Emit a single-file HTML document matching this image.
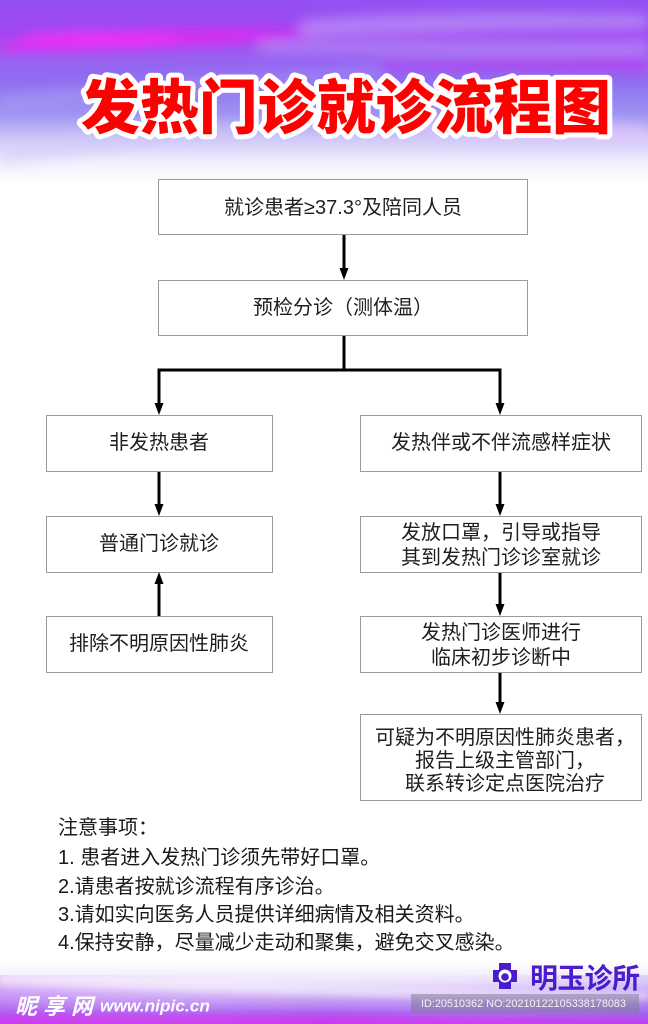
<!DOCTYPE html>
<html><head><meta charset="utf-8">
<style>
html,body{margin:0;padding:0;background:#fff;}
svg{display:block;}
</style></head>
<body>
<svg width="648" height="1024" viewBox="0 0 648 1024" xmlns="http://www.w3.org/2000/svg">
<defs>
<linearGradient id="topg" x1="0" y1="0" x2="0" y2="1">
<stop offset="0" stop-color="#9450f2"/>
<stop offset="0.18" stop-color="#a048f2"/>
<stop offset="0.3" stop-color="#9a60f2"/>
<stop offset="0.45" stop-color="#8e70f0"/>
<stop offset="0.62" stop-color="#a094f2"/>
<stop offset="0.75" stop-color="#cfc8f8"/>
<stop offset="0.88" stop-color="#f2f0fd"/>
<stop offset="1" stop-color="#ffffff"/>
</linearGradient>
<linearGradient id="botg" x1="0" y1="0" x2="0" y2="1">
<stop offset="0" stop-color="#ffffff"/>
<stop offset="0.3" stop-color="#eee6fc"/>
<stop offset="0.58" stop-color="#cba8f5"/>
<stop offset="0.82" stop-color="#a866f0"/>
<stop offset="1" stop-color="#c040f0"/>
</linearGradient>
<linearGradient id="both" x1="0" y1="0" x2="1" y2="0">
<stop offset="0" stop-color="#c050f0" stop-opacity="0.25"/>
<stop offset="0.5" stop-color="#ffffff" stop-opacity="0"/>
<stop offset="1" stop-color="#8060f0" stop-opacity="0.2"/>
</linearGradient>
<filter id="bl" x="-20%" y="-200%" width="140%" height="500%"><feGaussianBlur stdDeviation="6"/></filter>
<filter id="bl2" x="-20%" y="-200%" width="140%" height="500%"><feGaussianBlur stdDeviation="3"/></filter>
</defs>

<!-- top background -->
<rect x="0" y="0" width="648" height="185" fill="url(#topg)"/>
<g filter="url(#bl)">
<path d="M0 42 C120 30 220 28 330 32 C300 40 200 48 0 52 Z" fill="#f020f0" opacity="0.75"/>
<ellipse cx="100" cy="38" rx="80" ry="6" fill="#ff30ff" opacity="0.8"/>
<path d="M300 20 C420 10 540 12 648 14 L648 30 C520 30 420 34 300 38 Z" fill="#c8c0fa" opacity="0.45"/>
<path d="M260 44 C400 40 540 44 648 42 L648 52 C520 54 400 52 260 52 Z" fill="#dcd6fc" opacity="0.35"/>
<path d="M380 62 C480 58 560 58 648 55 L648 72 C560 70 470 70 380 70 Z" fill="#c030f0" opacity="0.6"/>
<path d="M0 95 C150 80 260 72 380 68 L380 80 C260 86 150 96 0 110 Z" fill="#b8b0f8" opacity="0.3"/>
<path d="M420 120 C520 118 600 122 648 128 L648 145 C580 140 500 136 420 134 Z" fill="#e8c8f8" opacity="0.6"/>
<path d="M0 150 C60 140 140 128 260 120 L260 132 C150 142 70 156 0 166 Z" fill="#c8c4f6" opacity="0.4"/>
</g>

<!-- bottom background -->
<rect x="0" y="962" width="648" height="62" fill="url(#botg)"/>
<rect x="0" y="975" width="648" height="49" fill="url(#both)"/>
<g filter="url(#bl2)">
<path d="M0 972 C150 976 350 988 648 992 L648 1000 C360 999 150 990 0 985 Z" fill="#ffffff" opacity="0.4"/>
<path d="M0 1014 C200 1012 400 1016 648 1019 L648 1024 L0 1024 Z" fill="#e020f0" opacity="0.4"/>
</g>

<!-- title -->
<text x="81" y="103" dominant-baseline="central" textLength="530" lengthAdjust="spacing"
 font-family="'Noto Sans CJK SC','WenQuanYi Zen Hei',sans-serif" font-weight="900" font-size="59"
 fill="#ff0000" stroke="#ffffff" stroke-width="10" stroke-linejoin="round" paint-order="stroke">发热门诊就诊流程图</text>

<!-- boxes -->
<g fill="#ffffff" stroke="#9a9a9a" stroke-width="1">
<rect x="158.5" y="179.5" width="369" height="55"/>
<rect x="158.5" y="280.5" width="369" height="55"/>
<rect x="46.5" y="415.5" width="226" height="56"/>
<rect x="46.5" y="516.5" width="226" height="56"/>
<rect x="46.5" y="616.5" width="226" height="56"/>
<rect x="360.5" y="415.5" width="281" height="56"/>
<rect x="360.5" y="516.5" width="281" height="56"/>
<rect x="360.5" y="616.5" width="281" height="56"/>
<rect x="360.5" y="714.5" width="281" height="86"/>
</g>

<!-- connectors -->
<g stroke="#000" stroke-width="3" fill="none">
<line x1="344" y1="235" x2="344" y2="270"/>
<line x1="344" y1="336" x2="344" y2="370"/>
<line x1="157.5" y1="370" x2="501.5" y2="370"/>
<line x1="159" y1="370" x2="159" y2="405"/>
<line x1="500" y1="370" x2="500" y2="405"/>
<line x1="159" y1="472" x2="159" y2="506"/>
<line x1="159" y1="616" x2="159" y2="582"/>
<line x1="500" y1="472" x2="500" y2="506"/>
<line x1="500" y1="573" x2="500" y2="606"/>
<line x1="500" y1="673" x2="500" y2="704"/>
</g>
<g fill="#000">
<polygon points="339.5,268 348.5,268 344,280"/>
<polygon points="154.5,403 163.5,403 159,415"/>
<polygon points="495.5,403 504.5,403 500,415"/>
<polygon points="154.5,504 163.5,504 159,516"/>
<polygon points="154.5,584 163.5,584 159,572"/>
<polygon points="495.5,504 504.5,504 500,516"/>
<polygon points="495.5,604 504.5,604 500,616"/>
<polygon points="495.5,702 504.5,702 500,714"/>
</g>

<!-- box labels -->
<g font-family="'Liberation Sans','Noto Sans CJK SC',sans-serif" font-size="20" fill="#1e1e1e" text-anchor="middle" dominant-baseline="central">
<text x="343" y="208">就诊患者≥37.3°及陪同人员</text>
<text x="343" y="308">预检分诊（测体温）</text>
<text x="159" y="443">非发热患者</text>
<text x="159" y="544">普通门诊就诊</text>
<text x="159" y="644">排除不明原因性肺炎</text>
<text x="501" y="443">发热伴或不伴流感样症状</text>
<text x="501" y="533">发放口罩，引导或指导</text>
<text x="501" y="558">其到发热门诊诊室就诊</text>
<text x="501" y="633">发热门诊医师进行</text>
<text x="501" y="658">临床初步诊断中</text>
<text x="505" y="738">可疑为不明原因性肺炎患者，</text>
<text x="505" y="761">报告上级主管部门，</text>
<text x="505" y="784">联系转诊定点医院治疗</text>
</g>

<!-- notes -->
<g font-family="'Liberation Sans','Noto Sans CJK SC',sans-serif" font-size="20" fill="#1a1a1a" dominant-baseline="central">
<text x="58" y="828">注意事项：</text>
<text x="58" y="858">1. 患者进入发热门诊须先带好口罩。</text>
<text x="58" y="887">2.请患者按就诊流程有序诊治。</text>
<text x="58" y="915">3.请如实向医务人员提供详细病情及相关资料。</text>
<text x="58" y="943">4.保持安静，尽量减少走动和聚集，避免交叉感染。</text>
</g>

<!-- logo -->
<g fill="#4a1ccc">
<rect x="499" y="963" width="12" height="26"/>
<rect x="493" y="970" width="24" height="12"/>
</g>
<circle cx="505" cy="976" r="6.5" fill="#ffffff"/>
<circle cx="505" cy="977" r="3.8" fill="#4a1ccc"/>
<text x="530" y="977" dominant-baseline="central" font-family="'Noto Sans CJK SC',sans-serif" font-weight="bold" font-size="28" fill="#4a1ccc" textLength="110" lengthAdjust="spacing">明玉诊所</text>

<!-- id bar -->
<rect x="411" y="994" width="228" height="19" fill="#7d7b90" opacity="0.5"/>
<text x="421" y="1004" dominant-baseline="central" font-family="'Liberation Sans',sans-serif" font-size="11" fill="#f2f2f2" textLength="205" lengthAdjust="spacingAndGlyphs">ID:20510362 NO:20210122105338178083</text>

<!-- watermark -->
<text x="15" y="1005" dominant-baseline="central" font-family="'Noto Sans CJK SC',sans-serif" font-weight="bold" font-style="italic" font-size="22" fill="#ffffff" textLength="78" lengthAdjust="spacing">昵享网</text>
<text x="100" y="1006" dominant-baseline="central" font-family="'Liberation Sans',sans-serif" font-weight="bold" font-style="italic" font-size="17" fill="#ffffff" textLength="110" lengthAdjust="spacingAndGlyphs">www.nipic.cn</text>
</svg>
</body></html>
